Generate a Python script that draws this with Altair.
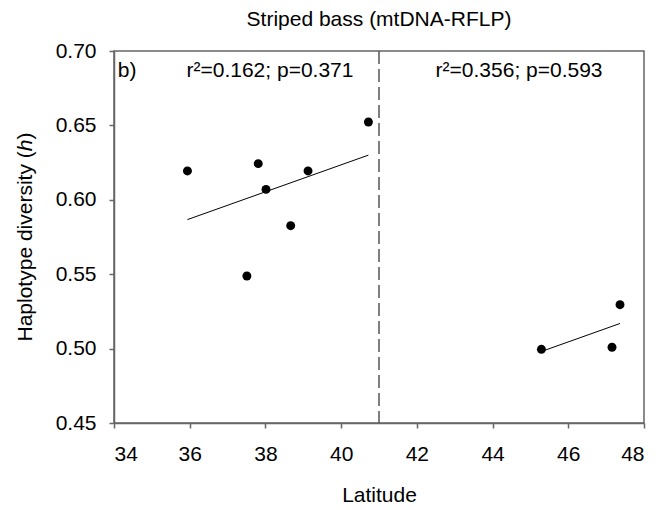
import altair as alt
import pandas as pd

# --- data ---
lat_south = [35.94, 37.81, 38.015, 39.125, 38.667, 37.51, 40.72]
h_south = [0.6194, 0.6243, 0.607, 0.6194, 0.5826, 0.5488, 0.6523]
lat_north = [45.29, 47.155, 47.366]
h_north = [0.4995, 0.5009, 0.5295]
x_ticks = [34, 36, 38, 40, 42, 44, 46, 48]
y_ticks = [0.45, 0.50, 0.55, 0.60, 0.65, 0.70]
divider_lat = [41]
ann_text = ["r²=0.162; p=0.371", "r²=0.356; p=0.593"]
ann_x = [38.12, 44.70]
ann_y = [0.6825, 0.6825]
panel_label = ["b)"]
panel_x = [34.1]
panel_y = [0.6825]
chart_title = "Striped bass (mtDNA-RFLP)"

FONT = "Liberation Sans"
FS = 21
AX = "#666666"
W, H = 530, 372

pts = pd.DataFrame({
    "lat": lat_south + lat_north,
    "h": h_south + h_north,
    "group": ["south"] * len(lat_south) + ["north"] * len(lat_north),
})
ann = pd.DataFrame({"lat": ann_x, "h": ann_y, "txt": ann_text})
lab = pd.DataFrame({"lat": panel_x, "h": panel_y, "txt": panel_label})
div = pd.DataFrame({"lat": divider_lat})

xs = alt.Scale(domain=[34, 48], nice=False, zero=False)
ys = alt.Scale(domain=[0.45, 0.70], nice=False, zero=False)

xenc = alt.X("lat:Q", scale=xs, title="Latitude",
             axis=alt.Axis(values=x_ticks, format="d", grid=False))
yenc = alt.Y("h:Q", scale=ys, title=None,
             axis=alt.Axis(values=y_ticks, format=".2f", grid=False))

points = alt.Chart(pts).mark_circle(size=80, color="black", opacity=1).encode(x=xenc, y=yenc)

reg = alt.Chart(pts).transform_regression(
    "lat", "h", groupby=["group"]
).mark_line(color="black", strokeWidth=1).encode(
    x=alt.X("lat:Q", scale=xs), y=alt.Y("h:Q", scale=ys), detail="group:N"
)

rule = alt.Chart(div).mark_rule(color="#555555", strokeWidth=1.5, strokeDash=[13, 5]).encode(
    x=alt.X("lat:Q", scale=xs)
)

annot = alt.Chart(ann).mark_text(font=FONT, fontSize=FS, align="center", baseline="alphabetic",
                                 color="black").encode(
    x=alt.X("lat:Q", scale=xs), y=alt.Y("h:Q", scale=ys), text="txt:N")

plabel = alt.Chart(lab).mark_text(font=FONT, fontSize=FS, align="left", baseline="alphabetic",
                                  color="black").encode(
    x=alt.X("lat:Q", scale=xs), y=alt.Y("h:Q", scale=ys), text="txt:N")

one = alt.Chart(pd.DataFrame({"a": [0]}))

# chart title as a text mark above the plot
ttl = one.mark_text(font=FONT, fontSize=FS, align="center", baseline="alphabetic",
                    color="black", text=chart_title).encode(
    x=alt.value(W / 2), y=alt.value(-25))

# y-axis title with italic h, built from three text pieces
YX = -82
yt1 = one.mark_text(font=FONT, fontSize=FS, angle=270, align="right", baseline="alphabetic",
                    color="black", text="Haplotype diversity (").encode(
    x=alt.value(YX), y=alt.value(100.25))
yt2 = one.mark_text(font=FONT, fontSize=FS, angle=270, align="left", baseline="alphabetic",
                    fontStyle="italic", color="black", text="h").encode(
    x=alt.value(YX), y=alt.value(100.25))
yt3 = one.mark_text(font=FONT, fontSize=FS, angle=270, align="left", baseline="alphabetic",
                    color="black", text=")").encode(
    x=alt.value(YX), y=alt.value(88.57))

chart = alt.layer(rule, reg, points, annot, plabel, ttl, yt1, yt2, yt3).properties(
    width=W, height=H,
    autosize=alt.AutoSizeParams(type="none"),
    padding={"left": 106, "top": 43, "right": 10, "bottom": 84},
    background="white",
).configure_view(
    stroke=AX, strokeWidth=1.5
).configure_axis(
    labelFont=FONT, labelFontSize=FS, labelColor="black",
    titleFont=FONT, titleFontSize=FS, titleColor="black", titleFontWeight="normal",
    domainColor=AX, domainWidth=1.5, tickColor=AX, tickWidth=1.5, tickSize=5,
).configure_axisX(
    labelPadding=15, titlePadding=20
).configure_axisY(
    labelPadding=13
)

chart.save("out.html", embed_options={"renderer": "svg", "actions": False})
